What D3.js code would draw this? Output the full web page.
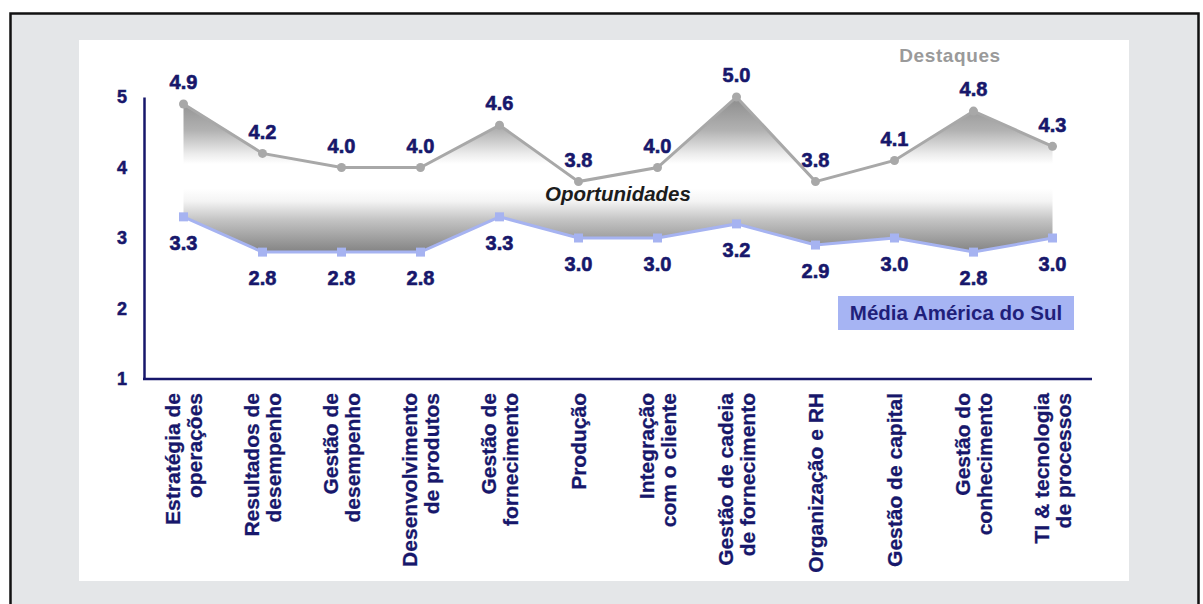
<!DOCTYPE html>
<html>
<head>
<meta charset="utf-8">
<script src="https://cdn.jsdelivr.net/npm/d3@7"></script>
<style>
html,body{margin:0;padding:0;background:#fff;}
svg{display:block;}
text{font-family:"Liberation Sans",Arial,sans-serif;font-weight:bold;}
</style>
</head>
<body>
<svg id="chart" width="1203" height="604"></svg>
<script>
const categories = [
  "Estratégia de\noperações",
  "Resultados de\ndesempenho",
  "Gestão de\ndesempenho",
  "Desenvolvimento\nde produtos",
  "Gestão de\nfornecimento",
  "Produção",
  "Integração\ncom o cliente",
  "Gestão de cadeia\nde fornecimento",
  "Organização e RH",
  "Gestão de capital",
  "Gestão do\nconhecimento",
  "TI & tecnologia\nde processos"
];
const destaques = [4.9, 4.2, 4.0, 4.0, 4.6, 3.8, 4.0, 5.0, 3.8, 4.1, 4.8, 4.3];
const mediaAmericaSul = [3.3, 2.8, 2.8, 2.8, 3.3, 3.0, 3.0, 3.2, 2.9, 3.0, 2.8, 3.0];
const yTicks = [1, 2, 3, 4, 5];
const labelDestaques = "Destaques";
const labelOportunidades = "Oportunidades";
const labelMedia = "Média América do Sul";

const navy = "#17176b";
const svg = d3.select("#chart");

// frame & panel
svg.append("rect").attr("x", 10.5).attr("y", 13.5).attr("width", 1188).attr("height", 640)
  .attr("fill", "#e4e6e8").attr("stroke", "#111").attr("stroke-width", 2.5);
svg.append("rect").attr("x", 79).attr("y", 40).attr("width", 1050).attr("height", 541)
  .attr("fill", "#fff");

const x = d3.scaleBand().domain(categories).range([144, 1092]);
const y = d3.scaleLinear().domain([1, 5]).range([379, 97]);
const cx = (d, i) => x(categories[i]) + x.bandwidth() / 2;

// gradients
const defs = svg.append("defs");
const gTop = defs.append("linearGradient").attr("id", "gTop")
  .attr("gradientUnits", "userSpaceOnUse").attr("x1", 0).attr("x2", 0)
  .attr("y1", y(5)).attr("y2", y(4.05));
gTop.append("stop").attr("offset", 0).attr("stop-color", "#8c8c8c");
gTop.append("stop").attr("offset", 0.5).attr("stop-color", "#b2b2b2");
gTop.append("stop").attr("offset", 0.85).attr("stop-color", "#ececec");
gTop.append("stop").attr("offset", 1).attr("stop-color", "#ffffff");

const gBot = defs.append("linearGradient").attr("id", "gBot")
  .attr("gradientUnits", "userSpaceOnUse").attr("x1", 0).attr("x2", 0)
  .attr("y1", y(3.7)).attr("y2", y(2.82));
gBot.append("stop").attr("offset", 0).attr("stop-color", "#ffffff");
gBot.append("stop").attr("offset", 0.2).attr("stop-color", "#f4f4f4");
gBot.append("stop").attr("offset", 0.5).attr("stop-color", "#c4c4c4");
gBot.append("stop").attr("offset", 1).attr("stop-color", "#868686");

// areas
svg.append("path").datum(destaques)
  .attr("d", d3.area().x(cx).y0(y(3.8)).y1(d => y(d)))
  .attr("fill", "url(#gTop)");
svg.append("path").datum(mediaAmericaSul)
  .attr("d", d3.area().x(cx).y0(y(3.7)).y1(d => y(d)))
  .attr("fill", "url(#gBot)");

// axes
const yAxis = svg.append("g").attr("transform", "translate(144,0)")
  .call(d3.axisLeft(y).tickValues(yTicks).tickFormat(d3.format("d")).tickSize(0).tickSizeOuter(0).tickPadding(17));
yAxis.select(".domain").attr("stroke", navy).attr("stroke-width", 2.5);
yAxis.selectAll("text").attr("fill", navy).attr("font-size", 18)
  .attr("stroke", navy).attr("stroke-width", 0.5)
  .style("font-family", '"Liberation Sans",Arial,sans-serif').style("font-weight", "bold");

svg.append("line").attr("x1", 143).attr("x2", 1092).attr("y1", y(1)).attr("y2", y(1))
  .attr("stroke", navy).attr("stroke-width", 2.5);

// x labels
const xl = svg.append("g");
categories.forEach((c, i) => {
  const lines = c.split("\n");
  const xc = cx(null, i);
  const t = xl.append("text")
    .attr("transform", `translate(${xc},393) rotate(-90)`)
    .attr("text-anchor", "end").attr("fill", navy).attr("font-size", 21)
    .attr("stroke", navy).attr("stroke-width", 0.3);
  lines.forEach((ln, j) => {
    const off = (j - (lines.length - 1) / 2) * 22;
    t.append("tspan").attr("x", 0).attr("y", off).attr("dy", "0.36em").text(ln);
  });
});

// lines
svg.append("path").datum(destaques)
  .attr("d", d3.line().x(cx).y(d => y(d)))
  .attr("fill", "none").attr("stroke", "#a8a8a8").attr("stroke-width", 3);
svg.selectAll(".dt").data(destaques).join("circle")
  .attr("cx", cx).attr("cy", d => y(d)).attr("r", 4.5).attr("fill", "#a8a8a8");

svg.append("path").datum(mediaAmericaSul)
  .attr("d", d3.line().x(cx).y(d => y(d)))
  .attr("fill", "none").attr("stroke", "#a6b3f1").attr("stroke-width", 3);
svg.selectAll(".mt").data(mediaAmericaSul).join("rect")
  .attr("x", (d, i) => cx(d, i) - 4.5).attr("y", d => y(d) - 4.5)
  .attr("width", 9).attr("height", 9).attr("fill", "#a6b3f1");

// value labels
svg.selectAll(".dl").data(destaques).join("text")
  .attr("x", cx).attr("y", d => y(d) - 22).attr("dy", "0.36em")
  .attr("text-anchor", "middle").attr("fill", navy).attr("font-size", 20)
  .attr("stroke", navy).attr("stroke-width", 0.6)
  .text(d => d.toFixed(1));
svg.selectAll(".ml").data(mediaAmericaSul).join("text")
  .attr("x", cx).attr("y", d => y(d) + 26).attr("dy", "0.36em")
  .attr("text-anchor", "middle").attr("fill", navy).attr("font-size", 20)
  .attr("stroke", navy).attr("stroke-width", 0.6)
  .text(d => d.toFixed(1));

// annotations
svg.append("text").attr("x", (cx(null, 0) + cx(null, categories.length - 1)) / 2).attr("y", y(3.63))
  .attr("dy", "0.36em").attr("text-anchor", "middle").attr("fill", "#1c1c1c")
  .attr("font-size", 20.5).attr("font-style", "italic").text(labelOportunidades);

svg.append("text").attr("x", 950).attr("y", 55).attr("dy", "0.36em")
  .attr("text-anchor", "middle").attr("fill", "#9a9a9a").attr("font-size", 19)
  .attr("letter-spacing", 0.6).text(labelDestaques);

svg.append("rect").attr("x", 838).attr("y", 296).attr("width", 236).attr("height", 34)
  .attr("fill", "#a6b4f3");
svg.append("text").attr("x", 956).attr("y", 313).attr("dy", "0.36em")
  .attr("text-anchor", "middle").attr("fill", "#1f1f7a").attr("font-size", 20.5)
  .text(labelMedia);
</script>
</body>
</html>
